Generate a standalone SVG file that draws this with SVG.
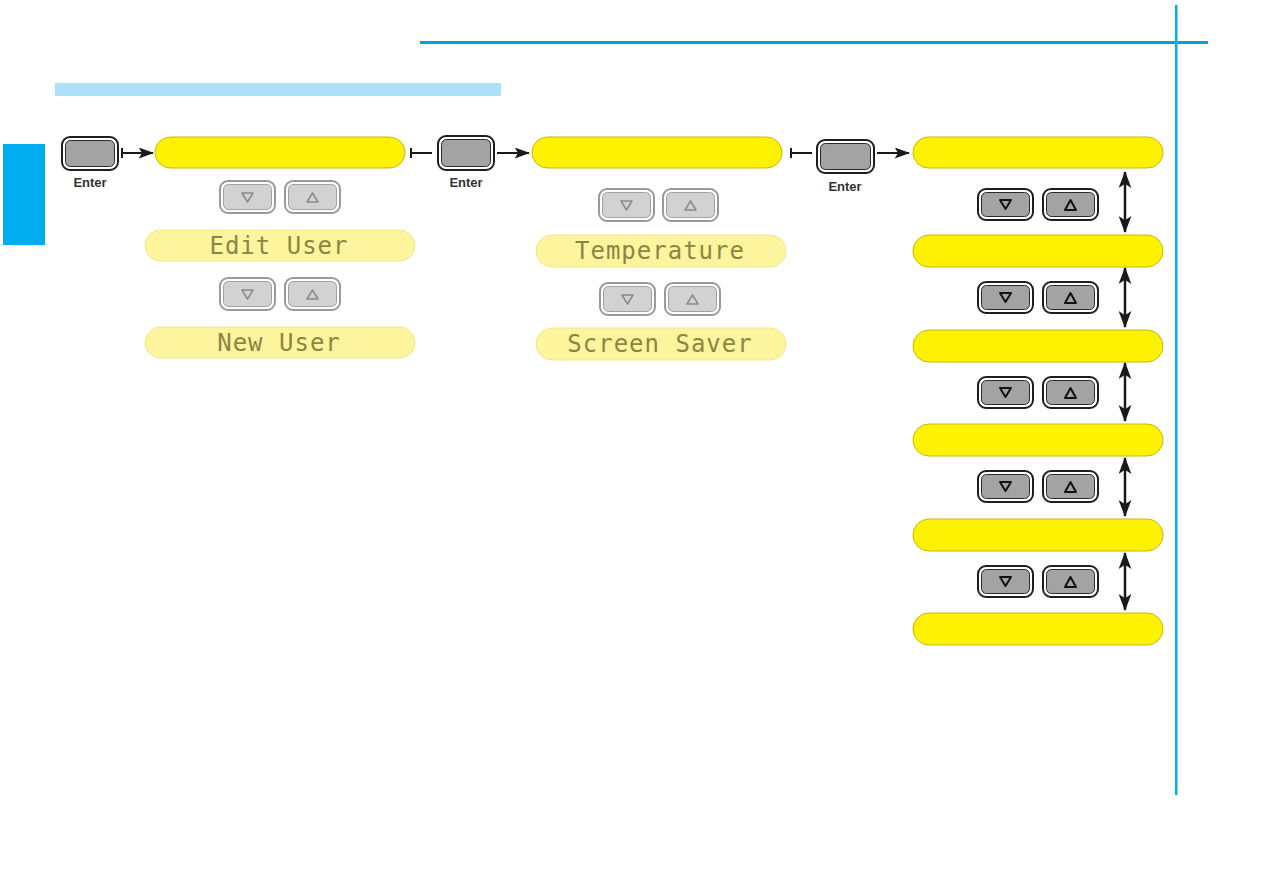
<svg xmlns="http://www.w3.org/2000/svg" width="1263" height="893" viewBox="0 0 1263 893">
<defs>
<style>
.pill{fill:#fff200;stroke:#c9b800;stroke-width:1}
.fpill{fill:#fdf49e;stroke:#efe68e;stroke-width:1}
.lcd{font-family:"DejaVu Sans Mono",monospace;font-size:24px;fill:#8e8442;letter-spacing:1px;text-anchor:middle}
.bo{fill:#fff;stroke:#1e1e1e;stroke-width:2}
.bi{fill:#a3a3a3;stroke:#2a2a2a;stroke-width:1}
.fbo{fill:#fff;stroke:#9a9a9a;stroke-width:2}
.fbi{fill:#d2d2d2;stroke:#a0a0a0;stroke-width:1}
.tri{fill:none;stroke:#111;stroke-width:2;stroke-linejoin:round}
.ftri{fill:none;stroke:#8a8a8a;stroke-width:1.5;stroke-linejoin:round}
.enter{font-family:"Liberation Sans",Arial,sans-serif;font-weight:bold;font-size:13px;fill:#333;text-anchor:middle}
.con{stroke:#1a1a1a;stroke-width:2;fill:none}
.dcon{stroke:#1a1a1a;stroke-width:2.5;fill:none}
</style>
<marker id="ah" viewBox="0 0 14 10" refX="13" refY="5" markerWidth="16" markerHeight="11" markerUnits="userSpaceOnUse" orient="auto-start-reverse">
<path d="M0,0 L14,5 L0,10 L3,5 Z" fill="#1a1a1a"/>
</marker>
<marker id="dh" viewBox="0 0 16 12" refX="15" refY="6" markerWidth="17" markerHeight="13" markerUnits="userSpaceOnUse" orient="auto-start-reverse">
<path d="M0,0 L16,6 L0,12 L4,6 Z" fill="#1a1a1a"/>
</marker>
<g id="btn">
<rect class="bo" x="0" y="0" width="55" height="31" rx="8"/>
<rect class="bi" x="3.5" y="3.5" width="48" height="24" rx="5"/>
</g>
<g id="fbtn">
<rect class="fbo" x="0" y="0" width="55" height="32" rx="8"/>
<rect class="fbi" x="3.5" y="3.5" width="48" height="25" rx="5"/>
</g>
</defs>
<rect width="1263" height="893" fill="#fff"/>
<g id="frame">
<rect x="420" y="41" width="788" height="3" fill="#00a3dc"/>
<rect x="1175" y="5" width="2.5" height="790" fill="#00aeef"/>
<rect x="55" y="83" width="446" height="13" fill="#abe2f9"/>
<rect x="3" y="144" width="42" height="101" fill="#00aeef"/>
</g>

<g id="enter1">
<rect class="bo" x="62" y="137" width="56" height="33" rx="8"/>
<rect class="bi" x="65.5" y="140.5" width="49" height="26" rx="5"/>
<text class="enter" x="90" y="187">Enter</text>
</g>
<g id="enter2">
<rect class="bo" x="438" y="136" width="56" height="34" rx="8"/>
<rect class="bi" x="441.5" y="139.5" width="49" height="27" rx="5"/>
<text class="enter" x="466" y="187">Enter</text>
</g>
<g id="enter3">
<rect class="bo" x="817" y="140" width="57" height="33" rx="8"/>
<rect class="bi" x="820.5" y="143.5" width="50" height="26" rx="5"/>
<text class="enter" x="845" y="191">Enter</text>
</g>

<g id="menu1"><rect class="pill" x="155" y="137" width="250" height="31" rx="15.5"/></g>
<g id="menu2"><rect class="pill" x="532" y="137" width="250" height="31" rx="15.5"/></g>

<g id="left-col">
<use href="#fbtn" x="220" y="181"/>
<path class="ftri" d="M242,193 L253,193 L247.5,202 Z"/>
<use href="#fbtn" x="285" y="181"/>
<path class="ftri" d="M307,202 L318,202 L312.5,193 Z"/>
<rect class="fpill" x="145" y="230" width="270" height="31" rx="15.5"/>
<text class="lcd" x="279" y="254">Edit User</text>
<use href="#fbtn" x="220" y="278"/>
<path class="ftri" d="M242,290 L253,290 L247.5,299 Z"/>
<use href="#fbtn" x="285" y="278"/>
<path class="ftri" d="M307,299 L318,299 L312.5,290 Z"/>
<rect class="fpill" x="145" y="327" width="270" height="31" rx="15.5"/>
<text class="lcd" x="279" y="351">New User</text>
</g>

<g id="mid-col">
<use href="#fbtn" x="599" y="189"/>
<path class="ftri" d="M621,201 L632,201 L626.5,210 Z"/>
<use href="#fbtn" x="663" y="189"/>
<path class="ftri" d="M685,210 L696,210 L690.5,201 Z"/>
<rect class="fpill" x="536" y="235" width="250" height="32" rx="16"/>
<text class="lcd" x="660" y="259">Temperature</text>
<use href="#fbtn" x="600" y="283"/>
<path class="ftri" d="M622,295 L633,295 L627.5,304 Z"/>
<use href="#fbtn" x="665" y="283"/>
<path class="ftri" d="M687,304 L698,304 L692.5,295 Z"/>
<rect class="fpill" x="536" y="328" width="250" height="32" rx="16"/>
<text class="lcd" x="660" y="352">Screen Saver</text>
</g>

<g id="right-col">
<rect class="pill" x="913" y="137" width="250" height="31" rx="15.5"/>
<rect class="pill" x="913" y="235" width="250" height="32" rx="16"/>
<rect class="pill" x="913" y="330" width="250" height="32" rx="16"/>
<rect class="pill" x="913" y="424" width="250" height="32" rx="16"/>
<rect class="pill" x="913" y="519" width="250" height="32" rx="16"/>
<rect class="pill" x="913" y="613" width="250" height="32" rx="16"/>

<use href="#btn" x="978" y="189"/>
<path class="tri" d="M1000,200 L1011,200 L1005.5,209 Z"/>
<use href="#btn" x="1043" y="189"/>
<path class="tri" d="M1065,210 L1076,210 L1070.5,200 Z"/>

<use href="#btn" x="978" y="282"/>
<path class="tri" d="M1000,293 L1011,293 L1005.5,302 Z"/>
<use href="#btn" x="1043" y="282"/>
<path class="tri" d="M1065,303 L1076,303 L1070.5,293 Z"/>

<use href="#btn" x="978" y="377"/>
<path class="tri" d="M1000,388 L1011,388 L1005.5,397 Z"/>
<use href="#btn" x="1043" y="377"/>
<path class="tri" d="M1065,398 L1076,398 L1070.5,388 Z"/>

<use href="#btn" x="978" y="471"/>
<path class="tri" d="M1000,482 L1011,482 L1005.5,491 Z"/>
<use href="#btn" x="1043" y="471"/>
<path class="tri" d="M1065,492 L1076,492 L1070.5,482 Z"/>

<use href="#btn" x="978" y="566"/>
<path class="tri" d="M1000,577 L1011,577 L1005.5,586 Z"/>
<use href="#btn" x="1043" y="566"/>
<path class="tri" d="M1065,587 L1076,587 L1070.5,577 Z"/>
</g>

<g id="connectors">
<path class="con" d="M122,148 V158 M122,153 H153" marker-end="url(#ah)"/>
<path class="con" d="M411,148 V158 M411,153 H432"/>
<path class="con" d="M497,153 H529" marker-end="url(#ah)"/>
<path class="con" d="M791,148 V158 M791,153 H812"/>
<path class="con" d="M877,153 H909" marker-end="url(#ah)"/>
<path class="dcon" d="M1125,172 V232" marker-start="url(#dh)" marker-end="url(#dh)"/>
<path class="dcon" d="M1125,268 V327" marker-start="url(#dh)" marker-end="url(#dh)"/>
<path class="dcon" d="M1125,363 V421" marker-start="url(#dh)" marker-end="url(#dh)"/>
<path class="dcon" d="M1125,458 V516" marker-start="url(#dh)" marker-end="url(#dh)"/>
<path class="dcon" d="M1125,553 V610" marker-start="url(#dh)" marker-end="url(#dh)"/>
</g>
</svg>
